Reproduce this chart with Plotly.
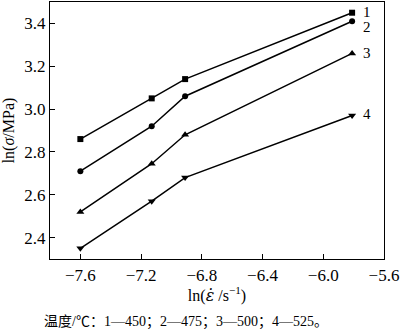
import plotly.graph_objects as go

# ln(strain rate) values shared by all four curves
ln_rate = [-7.6, -7.13, -6.91, -5.81]

# ln(flow stress) for each deformation temperature
ln_stress_450 = [2.86, 3.05, 3.14, 3.45]
ln_stress_475 = [2.71, 2.92, 3.06, 3.41]
ln_stress_500 = [2.52, 2.745, 2.88, 3.26]
ln_stress_525 = [2.35, 2.57, 2.68, 2.97]

curve_labels = ["1", "2", "3", "4"]
series = [ln_stress_450, ln_stress_475, ln_stress_500, ln_stress_525]
symbols = ["square", "circle", "triangle-up", "triangle-down"]
marker_sizes = [6, 6, 7, 7]

x_ticks = [-7.6, -7.2, -6.8, -6.4, -6.0, -5.6]
y_ticks = [2.4, 2.6, 2.8, 3.0, 3.2, 3.4]

SERIF = "Liberation Serif, Times New Roman, Noto Sans CJK SC, serif"

fig = go.Figure()
for vals, sym, ms in zip(series, symbols, marker_sizes):
    fig.add_trace(go.Scatter(
        x=ln_rate, y=vals, mode="lines+markers",
        line=dict(color="black", width=1.5),
        marker=dict(symbol=sym, size=ms, color="black"),
        showlegend=False,
    ))

# curve numbers placed just right of each end point
label_dy = [1, -6, 0, 2]
for lab, vals, dy in zip(curve_labels, series, label_dy):
    fig.add_annotation(
        x=ln_rate[-1], y=vals[-1], text=lab, showarrow=False,
        xanchor="left", yanchor="middle", xshift=9, yshift=dy,
        font=dict(family=SERIF, size=15, color="black"),
    )

fig.add_annotation(
    x=0.408, y=-0.245, xref="paper", yref="paper",
    text="温度/℃：1—450；2—475；3—500；4—525。",
    showarrow=False, xanchor="center", yanchor="middle",
    font=dict(family=SERIF, size=14, color="black"),
)

axis_common = dict(
    showline=True, linecolor="black", linewidth=1.2, mirror=True,
    ticks="inside", ticklen=5, tickcolor="black", tickwidth=1,
    showgrid=False, zeroline=False, ticklabeloverflow="allow",
    tickfont=dict(family=SERIF, size=17, color="black"),
)

fig.update_xaxes(
    range=[-7.8, -5.5999], tickvals=x_ticks,
    ticktext=["−7.6", "−7.2", "−6.8", "−6.4", "−6.0", "−5.6"],
    title=dict(
        text="ln(<span style=\"font-family:DejaVu Serif\"><i>ε̇</i></span> /s<sup>−1</sup>)",
        standoff=4, font=dict(family=SERIF, size=16, color="black")),
    **axis_common,
)
fig.update_yaxes(
    range=[2.3, 3.5], tickvals=y_ticks,
    ticktext=["2.4", "2.6", "2.8", "3.0", "3.2", "3.4"],
    title=dict(text="ln(<i>σ</i>/MPa)", standoff=6,
               font=dict(family=SERIF, size=16, color="black")),
    **axis_common,
)

fig.update_layout(
    width=400, height=331,
    margin=dict(l=50, r=14, t=1, b=72),
    plot_bgcolor="white", paper_bgcolor="white",
)

fig.write_html("out.html")
